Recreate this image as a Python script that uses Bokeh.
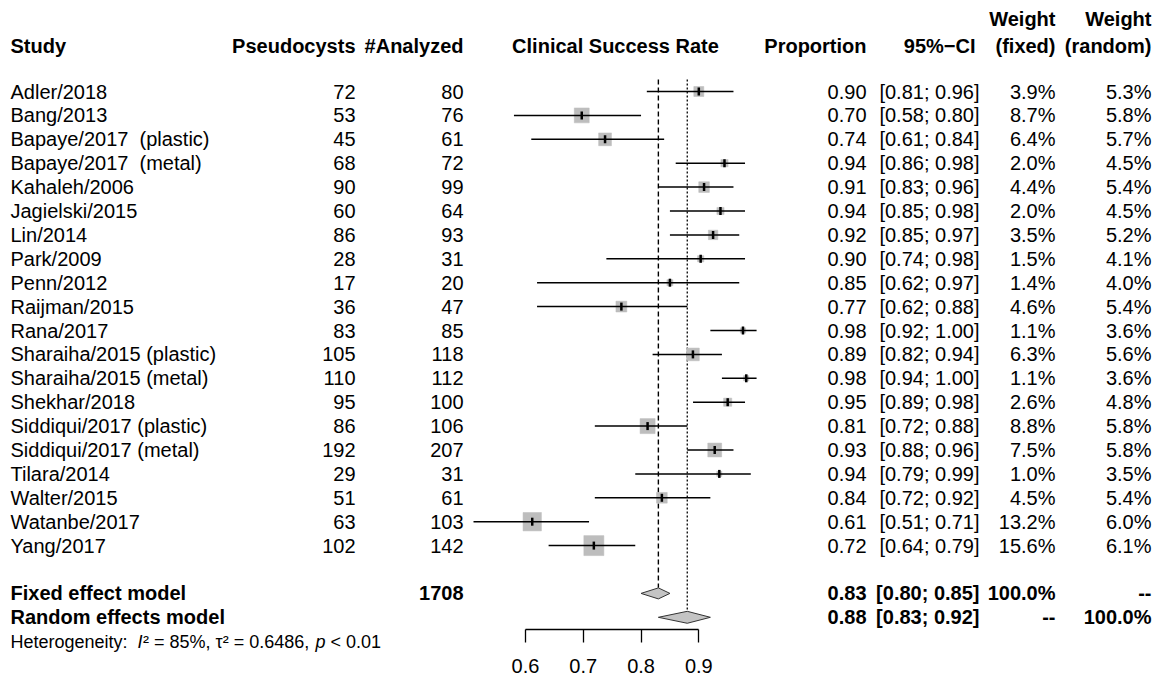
from bokeh.plotting import figure
from bokeh.models import Range1d, LinearAxis, FixedTicker
from bokeh.embed import file_html
from bokeh.resources import INLINE
from bokeh.core.properties import value
import math

# ---------------- data ----------------
studies = ["Adler/2018", "Bang/2013", "Bapaye/2017\u00a0 (plastic)", "Bapaye/2017\u00a0 (metal)",
           "Kahaleh/2006", "Jagielski/2015", "Lin/2014", "Park/2009", "Penn/2012",
           "Raijman/2015", "Rana/2017", "Sharaiha/2015 (plastic)", "Sharaiha/2015 (metal)",
           "Shekhar/2018", "Siddiqui/2017 (plastic)", "Siddiqui/2017 (metal)", "Tilara/2014",
           "Walter/2015", "Watanbe/2017", "Yang/2017"]
events = [72, 53, 45, 68, 90, 60, 86, 28, 17, 36, 83, 105, 110, 95, 86, 192, 29, 51, 63, 102]
totals = [80, 76, 61, 72, 99, 64, 93, 31, 20, 47, 85, 118, 112, 100, 106, 207, 31, 61, 103, 142]
prop_lbl = ["0.90", "0.70", "0.74", "0.94", "0.91", "0.94", "0.92", "0.90", "0.85", "0.77",
            "0.98", "0.89", "0.98", "0.95", "0.81", "0.93", "0.94", "0.84", "0.61", "0.72"]
ci_lo = [0.81, 0.58, 0.61, 0.86, 0.83, 0.85, 0.85, 0.74, 0.62, 0.62,
         0.92, 0.82, 0.94, 0.89, 0.72, 0.88, 0.79, 0.72, 0.51, 0.64]
ci_hi = [0.96, 0.80, 0.84, 0.98, 0.96, 0.98, 0.97, 0.98, 0.97, 0.88,
         1.00, 0.94, 1.00, 0.98, 0.88, 0.96, 0.99, 0.92, 0.71, 0.79]
w_fixed = [3.9, 8.7, 6.4, 2.0, 4.4, 2.0, 3.5, 1.5, 1.4, 4.6, 1.1, 6.3, 1.1, 2.6, 8.8, 7.5, 1.0, 4.5, 13.2, 15.6]
w_random = [5.3, 5.8, 5.7, 4.5, 5.4, 4.5, 5.2, 4.1, 4.0, 5.4, 3.6, 5.6, 3.6, 4.8, 5.8, 5.8, 3.5, 5.4, 6.0, 6.1]

model_names = ["Fixed effect model", "Random effects model"]
model_est = [0.83, 0.88]
model_lo = [0.80, 0.83]
model_hi = [0.85, 0.92]
model_wf = ["100.0%", "--"]
model_wr = ["--", "100.0%"]
total_n = 1708

axis_ticks = [0.6, 0.7, 0.8, 0.9]
axis_tick_labels = ["0.6", "0.7", "0.8", "0.9"]

# ---------------- layout helpers ----------------
W, H = 1154, 677
PX0, PSLOPE = 525.0, 577.7     # pixel of 0.6 and px per unit proportion
ROW0, ROWH = 91.0, 23.9        # pixel of first row and row height


def X(px):
    return 0.6 + (px - PX0) / PSLOPE


def R(py):
    return (py - ROW0) / ROWH


FONT = value("Liberation Sans")

p = figure(width=W, height=H, output_backend="svg", toolbar_location=None,
           x_axis_location=None, y_axis_location=None,
           x_range=Range1d(X(0), X(W)), y_range=Range1d(R(H), R(0)),
           min_border=0, outline_line_color=None)
p.xgrid.visible = False
p.ygrid.visible = False
p.background_fill_color = "white"
p.border_fill_color = "white"

n = len(studies)
rows = list(range(n))
props = [e / t for e, t in zip(events, totals)]
fixed_row = n + 1
random_row = n + 2


def txt(xs, ys, texts, align="left", bold=False, size="20px", italic=False):
    style = "bold" if bold else ("italic" if italic else "normal")
    p.text(x=xs, y=ys, text=texts, text_align=align, text_baseline="middle",
           text_font=FONT, text_font_size=size, text_font_style=style, text_color="black")


# headers
hdr_y = R(45)
txt([X(10)], [hdr_y], ["Study"], bold=True)
txt([X(355)], [hdr_y], ["Pseudocysts"], align="right", bold=True)
txt([X(463)], [hdr_y], ["#Analyzed"], align="right", bold=True)
txt([X(615)], [hdr_y], ["Clinical Success Rate"], align="center", bold=True)
txt([X(866)], [hdr_y], ["Proportion"], align="right", bold=True)
txt([X(975)], [hdr_y], ["95%\u2212CI"], align="right", bold=True)
txt([X(1055), X(1151)], [R(18), R(18)], ["Weight", "Weight"], align="right", bold=True)
txt([X(1055), X(1151)], [hdr_y, hdr_y], ["(fixed)", "(random)"], align="right", bold=True)

# study rows text
txt([X(10)] * n, rows, studies)
txt([X(355)] * n, rows, [str(v) for v in events], align="right")
txt([X(463)] * n, rows, [str(v) for v in totals], align="right")
txt([X(866)] * n, rows, prop_lbl, align="right")
txt([X(979)] * n, rows, ["[%.2f; %.2f]" % (a, b) for a, b in zip(ci_lo, ci_hi)], align="right")
txt([X(1055)] * n, rows, ["%.1f%%" % w for w in w_fixed], align="right")
txt([X(1151)] * n, rows, ["%.1f%%" % w for w in w_random], align="right")

# model rows text
mrows = [fixed_row, random_row]
txt([X(10)] * 2, mrows, model_names, bold=True)
txt([X(463)], [fixed_row], [str(total_n)], align="right", bold=True)
txt([X(866)] * 2, mrows, ["%.2f" % v for v in model_est], align="right", bold=True)
txt([X(979)] * 2, mrows, ["[%.2f; %.2f]" % (a, b) for a, b in zip(model_lo, model_hi)], align="right", bold=True)
txt([X(1055)] * 2, mrows, model_wf, align="right", bold=True)
txt([X(1151)] * 2, mrows, model_wr, align="right", bold=True)

# heterogeneity line (pieces so I and p can be italic)
het_y = R(641)
HS = "18px"
txt([X(10)], [het_y], ["Heterogeneity:"], size=HS)
txt([X(137)], [het_y], ["I"], size=HS, italic=True)
txt([X(142.5)], [het_y], ["\u00b2 = 85%, \u03c4\u00b2 = 0.6486,"], size=HS)
txt([X(315)], [het_y], ["p"], size=HS, italic=True)
txt([X(330)], [het_y], ["< 0.01"], size=HS)

# reference lines
top = R(79)
p.segment(x0=[model_est[0]], y0=[top], x1=[model_est[0]], y1=[fixed_row - 0.24],
          line_color="black", line_width=1.4, line_dash="5 3")
p.segment(x0=[model_est[1]], y0=[top], x1=[model_est[1]], y1=[random_row - 0.25],
          line_color="black", line_width=1.3, line_dash="2 2")

# boxes (size ~ sqrt of fixed weight)
wmax = max(w_fixed)
sides = [20.0 * math.sqrt(w / wmax) for w in w_fixed]
p.scatter(x=props, y=rows, size=sides, marker="square", fill_color="#bdbdbd",
          line_color="#bdbdbd", line_width=0.5)

# confidence intervals
p.segment(x0=ci_lo, y0=rows, x1=ci_hi, y1=rows, line_color="black", line_width=1.5)
p.scatter(x=props, y=rows, size=8, marker="dash", angle=math.pi / 2,
          line_color="black", line_width=2.5)

# diamonds
hh = [0.23, 0.25]
p.patches(xs=[[lo, est, hi, est] for lo, est, hi in zip(model_lo, model_est, model_hi)],
          ys=[[r, r - h, r, r + h] for r, h in zip(mrows, hh)],
          fill_color="#c4c4c4", line_color="#333333", line_width=1)

# axis
ax = LinearAxis(fixed_location=R(629), bounds=(axis_ticks[0], axis_ticks[-1]),
                ticker=FixedTicker(ticks=axis_ticks),
                major_label_overrides={t: l for t, l in zip(axis_ticks, axis_tick_labels)})
ax.axis_line_color = "black"
ax.axis_line_width = 1.3
ax.major_tick_line_color = "black"
ax.major_tick_line_width = 1.3
ax.major_tick_in = 0
ax.major_tick_out = 13
ax.minor_tick_line_color = None
ax.major_label_standoff = 16
ax.major_label_text_font = "Liberation Sans"
ax.major_label_text_font_size = "20px"
ax.major_label_text_color = "black"
p.add_layout(ax, "below")

open("out.html", "w").write(file_html(p, INLINE))
